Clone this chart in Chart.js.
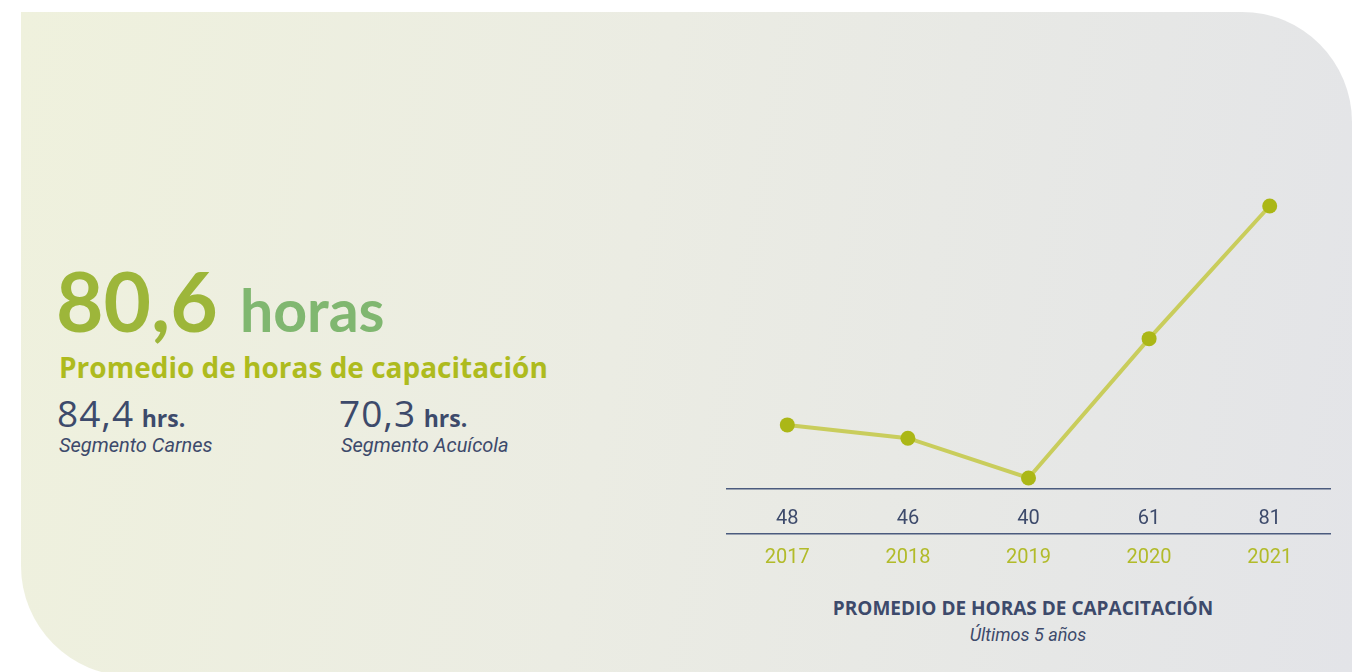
<!DOCTYPE html>
<html>
<head>
<meta charset="utf-8">
<script src="https://cdn.jsdelivr.net/npm/chart.js@4.4.0/dist/chart.umd.min.js"></script>
<style>
  html, body { margin: 0; padding: 0; background: #fff; }
  body { width: 1363px; height: 672px; position: relative; overflow: hidden; }
  .panel {
    position: absolute; left: 21px; top: 12px; width: 1331px; height: 664px;
    border-radius: 0 110px 0 110px;
    background: linear-gradient(100deg, #eff1dd 0%, #ebece3 45%, #e3e4e8 100%);
  }
  .t { position: absolute; line-height: 1; white-space: nowrap; }
  .big { left: 56px; top: 259px; font-family: Lato, sans-serif; font-weight: 700; }
  .big .n { font-size: 82px; color: #9db63a; }
  .big .h { font-size: 59px; color: #80b770; margin-left: 22px; }
  .sub { left: 59px; top: 353px; font-family: 'Open Sans', sans-serif; font-weight: 700; font-size: 28px; color: #aebb1e; }
  .val { top: 394px; font-family: 'Open Sans', sans-serif; font-size: 37px; color: #3d4a6b; }
  .val span { letter-spacing: 1px; margin-right: -2px; }
  .val b { font-size: 23px; font-weight: 700; }
  .seg { top: 435px; font-family: Roboto, sans-serif; font-style: italic; font-size: 20px; color: #3d4a6b; }
  .ctitle { left: 773px; width: 500px; text-align: center; top: 599px; font-family: 'Open Sans', sans-serif; font-weight: 700; font-size: 19px; color: #3d4a6b; }
  .csub { left: 828px; width: 400px; text-align: center; top: 626px; font-family: Roboto, sans-serif; font-style: italic; font-size: 18px; color: #3d4a6b; }
  #wrap { position: absolute; left: 0; top: 0; width: 1363px; height: 672px; }
</style>
</head>
<body>
<div class="panel"></div>
<div class="t big"><span class="n">80,6</span><span class="h">horas</span></div>
<div class="t sub">Promedio de horas de capacitación</div>
<div class="t val" style="left:57px"><span>84,4</span> <b>hrs.</b></div>
<div class="t seg" style="left:59px">Segmento Carnes</div>
<div class="t val" style="left:339px"><span>70,3</span> <b>hrs.</b></div>
<div class="t seg" style="left:341px">Segmento Acuícola</div>
<div class="t ctitle">PROMEDIO DE HORAS DE CAPACITACIÓN</div>
<div class="t csub">Últimos 5 años</div>
<div id="wrap"><canvas id="myChart"></canvas></div>
<script>
const years = ['2017', '2018', '2019', '2020', '2021'];
const hours = [48, 46, 40, 61, 81];

const ctx = document.getElementById('myChart').getContext('2d');
const myChart = new Chart(ctx, {
    type: 'line',
    data: {
        labels: years,
        datasets: [{
            label: 'Horas',
            data: hours,
            borderColor: '#c9cd5c',
            borderWidth: 4,
            pointBackgroundColor: '#abb716',
            pointBorderWidth: 0,
            pointRadius: 7.5,
            tension: 0,
            clip: false
        }]
    },
    options: {
        responsive: true,
        maintainAspectRatio: false,
        animation: false,
        layout: { padding: { left: 727, right: 33, top: 150, bottom: 98 } },
        plugins: { legend: { display: false }, tooltip: { enabled: false } },
        scales: {
            y: { display: false, min: 38.34, max: 89.44 },
            x: {
                offset: true,
                weight: 1,
                grid: { display: false, drawTicks: false },
                border: { display: true, color: '#4b5b7e', width: 1.5 },
                ticks: {
                    padding: 18,
                    color: '#3d4a6b',
                    font: { family: 'Roboto', size: 20 },
                    callback: (v, i) => hours[i]
                },
                afterFit: scale => { scale.height = 45; }
            },
            x2: {
                type: 'category',
                position: 'bottom',
                labels: years,
                offset: true,
                weight: 2,
                grid: { display: false, drawTicks: false },
                border: { display: true, color: '#4b5b7e', width: 1.5 },
                ticks: {
                    padding: 12,
                    color: '#b2bb2a',
                    font: { family: 'Roboto', size: 20 }
                },
                afterFit: scale => { scale.height = 40; }
            }
        }
    }
});
</script>
</body>
</html>
